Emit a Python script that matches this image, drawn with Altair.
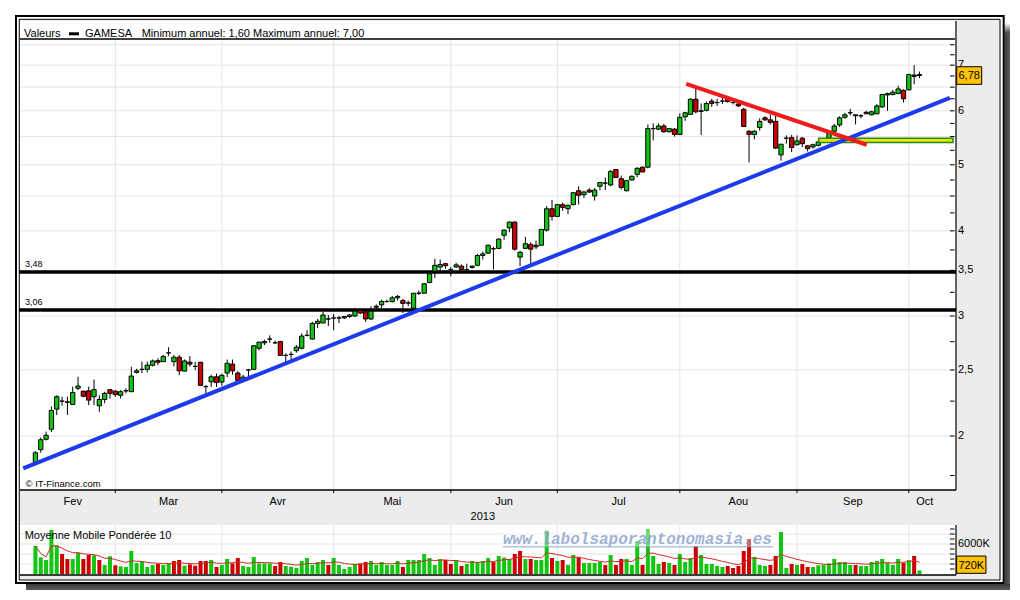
import altair as alt
import numpy as np
import pandas as pd

# ---------------- data (trading-day index, 0 = 1 Mar 2013) ----------------
day_index = list(range(-15, 152))

opens = [
    1.83, 1.91, 1.978, 2.046, 2.19, 2.25, 2.245, 2.225, 2.35, 2.327,
    2.33, 2.284, 2.215, 2.263, 2.339, 2.327, 2.295, 2.33, 2.323, 2.48,
    2.505, 2.505, 2.54, 2.58, 2.571, 2.648, 2.571, 2.61, 2.49, 2.566,
    2.53, 2.566, 2.363, 2.402, 2.443, 2.40, 2.474, 2.55, 2.474, 2.42,
    2.50, 2.505, 2.69, 2.74, 2.775, 2.74, 2.752, 2.626, 2.635, 2.668,
    2.69, 2.81, 2.775, 2.926, 2.93, 2.97, 2.98, 2.98, 2.98, 2.995,
    3.00, 3.06, 3.04, 2.97, 3.09, 3.115, 3.15, 3.15, 3.19, 3.16,
    3.135, 3.08, 3.24, 3.24, 3.36, 3.49, 3.54, 3.58, 3.51, 3.54,
    3.55, 3.51, 3.535, 3.56, 3.68, 3.71, 3.765, 3.77, 3.94, 4.04,
    4.12, 3.66, 3.77, 3.82, 3.79, 3.81, 4.01, 4.31, 4.20, 4.37,
    4.31, 4.37, 4.58, 4.52, 4.59, 4.50, 4.65, 4.70, 4.67, 4.92,
    4.77, 4.58, 4.75, 4.84, 4.96, 4.96, 5.65, 5.64, 5.70, 5.59,
    5.64, 5.54, 5.88, 5.93, 6.24, 5.99, 6.01, 6.20, 6.17, 6.20,
    6.26, 6.17, 6.14, 6.03, 5.60, 5.54, 5.67, 5.86, 5.82, 5.79,
    5.17, 5.47, 5.48, 5.35, 5.47, 5.33, 5.31, 5.34, 5.42, 5.47,
    5.60, 5.72, 5.87, 5.96, 5.92, 5.90, 5.97, 5.92, 5.94, 6.08,
    6.33, 6.34, 6.36, 6.43, 6.44, 6.77, 6.76]

highs = [
    1.90, 1.99, 2.03, 2.21, 2.295, 2.284, 2.284, 2.363, 2.443, 2.33,
    2.363, 2.42, 2.295, 2.323, 2.339, 2.335, 2.335, 2.35, 2.527, 2.51,
    2.571, 2.571, 2.59, 2.60, 2.63, 2.70, 2.63, 2.63, 2.59, 2.62,
    2.57, 2.566, 2.376, 2.46, 2.47, 2.47, 2.59, 2.59, 2.49, 2.46,
    2.51, 2.72, 2.75, 2.77, 2.81, 2.76, 2.76, 2.645, 2.66, 2.72,
    2.83, 2.86, 2.94, 2.97, 3.04, 3.01, 3.02, 3.00, 3.00, 3.02,
    3.08, 3.07, 3.07, 3.10, 3.12, 3.17, 3.17, 3.21, 3.22, 3.18,
    3.16, 3.24, 3.27, 3.35, 3.47, 3.64, 3.63, 3.59, 3.54, 3.59,
    3.57, 3.58, 3.56, 3.70, 3.73, 3.82, 3.79, 3.90, 4.02, 4.13,
    4.13, 3.74, 3.92, 3.85, 3.87, 4.02, 4.35, 4.44, 4.38, 4.40,
    4.37, 4.56, 4.65, 4.58, 4.62, 4.62, 4.71, 4.79, 4.91, 4.93,
    4.82, 4.75, 4.82, 4.96, 4.97, 5.73, 5.75, 5.75, 5.74, 5.66,
    5.66, 5.95, 5.98, 6.26, 6.47, 6.15, 6.19, 6.25, 6.25, 6.27,
    6.28, 6.22, 6.16, 6.06, 5.62, 5.62, 5.85, 5.89, 5.92, 5.90,
    5.36, 5.52, 5.53, 5.52, 5.49, 5.34, 5.37, 5.43, 5.47, 5.59,
    5.74, 5.89, 5.96, 6.04, 5.92, 5.93, 6.00, 6.00, 6.14, 6.35,
    6.38, 6.44, 6.53, 6.45, 6.80, 7.00, 6.85]

lows = [
    1.82, 1.89, 1.97, 2.027, 2.147, 2.215, 2.147, 2.225, 2.335, 2.28,
    2.22, 2.22, 2.17, 2.233, 2.27, 2.284, 2.27, 2.31, 2.32, 2.47,
    2.474, 2.48, 2.53, 2.54, 2.57, 2.62, 2.53, 2.457, 2.49, 2.527,
    2.50, 2.37, 2.31, 2.36, 2.36, 2.37, 2.44, 2.46, 2.41, 2.40,
    2.42, 2.50, 2.67, 2.72, 2.74, 2.73, 2.62, 2.566, 2.58, 2.65,
    2.68, 2.80, 2.77, 2.88, 2.93, 2.90, 2.86, 2.93, 2.97, 2.98,
    2.99, 3.02, 2.94, 2.96, 3.06, 3.08, 3.14, 3.14, 3.16, 3.03,
    3.10, 3.06, 3.22, 3.24, 3.35, 3.41, 3.50, 3.52, 3.43, 3.53,
    3.49, 3.49, 3.52, 3.55, 3.63, 3.70, 3.51, 3.76, 3.88, 3.98,
    3.74, 3.55, 3.76, 3.58, 3.76, 3.81, 3.99, 4.14, 4.19, 4.28,
    4.23, 4.36, 4.37, 4.47, 4.55, 4.43, 4.59, 4.59, 4.65, 4.78,
    4.60, 4.57, 4.74, 4.79, 4.88, 4.94, 5.43, 5.62, 5.57, 5.58,
    5.50, 5.53, 5.80, 5.92, 5.95, 5.53, 5.99, 6.08, 6.10, 6.14,
    6.17, 6.13, 6.08, 5.69, 5.04, 5.45, 5.61, 5.80, 5.73, 5.27,
    5.07, 5.37, 5.22, 5.34, 5.31, 5.23, 5.28, 5.32, 5.38, 5.46,
    5.58, 5.68, 5.84, 5.91, 5.73, 5.85, 5.94, 5.91, 5.93, 6.06,
    6.00, 6.32, 6.35, 6.17, 6.43, 6.56, 6.70]

closes = [
    1.89, 1.975, 2.005, 2.18, 2.284, 2.25, 2.241, 2.317, 2.368, 2.287,
    2.258, 2.339, 2.263, 2.31, 2.31, 2.30, 2.323, 2.33, 2.449, 2.493,
    2.505, 2.541, 2.577, 2.566, 2.617, 2.648, 2.61, 2.493, 2.577, 2.55,
    2.53, 2.373, 2.363, 2.443, 2.396, 2.455, 2.557, 2.493, 2.413, 2.44,
    2.50, 2.713, 2.746, 2.752, 2.775, 2.74, 2.626, 2.626, 2.635, 2.70,
    2.803, 2.81, 2.926, 2.947, 3.01, 2.97, 2.98, 2.98, 2.995, 3.01,
    3.05, 3.03, 2.97, 3.05, 3.10, 3.15, 3.15, 3.19, 3.205, 3.13,
    3.135, 3.24, 3.24, 3.345, 3.46, 3.56, 3.57, 3.555, 3.51, 3.565,
    3.51, 3.51, 3.55, 3.68, 3.70, 3.81, 3.765, 3.89, 4.01, 4.12,
    3.76, 3.72, 3.83, 3.76, 3.81, 4.02, 4.31, 4.20, 4.37, 4.33,
    4.36, 4.55, 4.51, 4.56, 4.56, 4.59, 4.71, 4.70, 4.89, 4.79,
    4.63, 4.74, 4.81, 4.94, 4.88, 5.65, 5.65, 5.70, 5.59, 5.65,
    5.54, 5.87, 5.96, 6.24, 5.98, 6.00, 6.15, 6.15, 6.17, 6.20,
    6.19, 6.17, 6.10, 5.69, 5.54, 5.60, 5.79, 5.82, 5.77, 5.29,
    5.36, 5.47, 5.30, 5.42, 5.37, 5.28, 5.35, 5.40, 5.44, 5.56,
    5.70, 5.86, 5.92, 5.96, 5.90, 5.90, 5.94, 5.98, 6.10, 6.34,
    6.36, 6.39, 6.46, 6.25, 6.78, 6.74, 6.78]

volumes_k = [
    5600, 3333, 2800, 8800, 5733, 4000, 3000, 3000, 4267, 3000,
    3800, 3733, 2800, 1800, 3533, 1733, 1533, 1400, 4600, 2200,
    2533, 1400, 1800, 2000, 1800, 2133, 2600, 2800, 1667, 1933,
    1667, 2600, 2600, 2800, 1400, 1800, 3000, 2133, 3200, 1600,
    1400, 3400, 2133, 2133, 2133, 1600, 2400, 1600, 1467, 1200,
    2600, 3200, 1800, 2400, 2800, 1800, 3200, 1800, 1000, 1400,
    2000, 2133, 2400, 2600, 1800, 2400, 1800, 1800, 2600, 1400,
    2800, 2800, 2800, 4000, 3200, 1800, 3000, 2800, 2000, 2800,
    1600, 2000, 2600, 2400, 2600, 3200, 2400, 3600, 3300, 3000,
    4000, 4600, 3000, 3000, 2800, 2800, 8667, 3200, 2600, 2800,
    1800, 3800, 3333, 2200, 2200, 2200, 2400, 1800, 3800, 1800,
    3000, 3000, 1800, 6600, 1800, 8933, 3600, 2000, 2400, 2200,
    1800, 4000, 2400, 3200, 5600, 3800, 2000, 2000, 1600, 1400,
    1600, 1200, 1600, 4600, 7000, 3400, 1800, 1600, 1800, 3600,
    8400, 1200, 2000, 1800, 2000, 1400, 1400, 1750, 1800, 2133,
    3000, 2400, 2400, 1800, 1800, 1600, 1600, 2400, 2600, 3000,
    2200, 1800, 3000, 2200, 2800, 3600, 720]

month_starts = [0, 20, 41, 63, 83, 106, 128, 149]
month_names = ["Fev", "Mar", "Avr", "Mai", "Jun", "Jul", "Aou", "Sep", "Oct"]
month_label_pos = [-8, 10, 30.5, 52, 73, 94.5, 117, 138.5, 152]
year_text = ["2013"]
year_pos = [69]

price_grid = [2.0, 2.5, 3.0, 3.5, 4.0, 4.5, 5.0, 5.5, 6.0, 6.5, 7.0, 7.5]
price_ticks = [1.75, 2.0, 2.25, 2.5, 2.75, 3.0, 3.25, 3.5, 3.75, 4.0, 4.25, 4.5,
               4.75, 5.0, 5.25, 5.5, 5.75, 6.0, 6.25, 6.5, 6.75, 7.0, 7.25, 7.5]
price_labels = [2, 2.5, 3, 3.5, 4, 5, 6, 7]

support_levels = [3.48, 3.06]
blue_x = [-17.3, 156.7]
blue_y = [1.793, 6.27]
red_x = [107.2, 141.1]
red_y = [6.57, 5.35]
band_x = [132.1, 157.3]
band_y = [5.39, 5.47]

vol_grid = [2000, 4000, 6000, 8000]
vol_ticks = [1000, 2000, 3000, 4000, 5000, 6000, 7000, 8000, 9000]
vol_labels = [6000]

# ---------------- styling ----------------
FONT = "Liberation Sans"
GREEN = "#11c511"
RED = "#cc0000"
BLUE = "#1c3aee"
LINE_RED = "#f01c1c"
GRID = "#e4e4e4"
PANEL = "#ececec"
BOX = "#ffc300"

W, H = 936, 469
VH = 50
xs = alt.Scale(domain=[-16.96, 156.92], nice=False, zero=False)
ys = alt.Scale(type="log", domain=[1.6665, 8.127], nice=False)
vs = alt.Scale(domain=[-200, 9800], nice=False, zero=False)

df = pd.DataFrame({"i": day_index, "o": opens, "h": highs, "l": lows,
                   "c": closes, "v": volumes_k})
prev_close = df["c"].shift(1).fillna(df["o"])
df["vup"] = (df["c"] >= prev_close).astype(int)
vol = np.array(volumes_k, dtype=float)
wma = []
for k in range(len(vol)):
    seg = vol[max(0, k - 9):k + 1]
    wts = np.arange(1, len(seg) + 1)
    wma.append(float((seg * wts).sum() / wts.sum()))
df["wma"] = wma

last = df.tail(1).copy()
last["plab"] = last["c"].map(lambda v: f"{v:.2f}".replace(".", ","))
last["vlab"] = last["v"].map(lambda v: f"{int(v)}K")

fr = alt.Chart(pd.DataFrame({"k": [0]}))
X = lambda f: alt.X(f, scale=xs, axis=None)
Y = lambda f: alt.Y(f, scale=ys, axis=None)
V = lambda f: alt.Y(f, scale=vs, axis=None)

grad_h = alt.Gradient(gradient="linear", x1=0, x2=1, y1=0, y2=0,
                      stops=[alt.GradientStop(offset=0, color="#3a3a3a"),
                             alt.GradientStop(offset=1, color="#5e5e5e")])
grad_v = alt.Gradient(gradient="linear", x1=0, x2=0, y1=0, y2=1,
                      stops=[alt.GradientStop(offset=0, color="#3a3a3a"),
                             alt.GradientStop(offset=1, color="#5a5a5a")])
grad_top = alt.Gradient(gradient="linear", x1=0, x2=0, y1=0, y2=1,
                        stops=[alt.GradientStop(offset=0, color="#ffffff"),
                               alt.GradientStop(offset=1, color="#4a4a4a")])

layers = [
    fr.mark_rect(color="white").encode(x=alt.value(-12), x2=alt.value(-11), y=alt.value(-13), y2=alt.value(-12)),
    fr.mark_rect(fill=grad_top).encode(x=alt.value(984.5), x2=alt.value(990), y=alt.value(2), y2=alt.value(12)),
    fr.mark_rect(fill=grad_h).encode(x=alt.value(984.5), x2=alt.value(990), y=alt.value(12), y2=alt.value(569)),
    fr.mark_rect(fill=grad_v).encode(x=alt.value(6), x2=alt.value(990), y=alt.value(563), y2=alt.value(569)),
    fr.mark_rect(fillOpacity=0, stroke="black", strokeWidth=2).encode(
        x=alt.value(-4), x2=alt.value(983.7), y=alt.value(-5.1), y2=alt.value(561.9)),
    fr.mark_rect(fill=PANEL, stroke="black", strokeWidth=1).encode(
        x=alt.value(-0.75), x2=alt.value(980), y=alt.value(-1.7), y2=alt.value(559)),
    fr.mark_rect(fill="white").encode(x=alt.value(0), x2=alt.value(W), y=alt.value(0), y2=alt.value(H)),
    alt.Chart(pd.DataFrame({"g": price_grid})).mark_rule(color=GRID, strokeWidth=1).encode(
        y=Y("g:Q"), x=alt.value(0), x2=alt.value(W)),
    alt.Chart(pd.DataFrame({"m": month_starts})).mark_rule(color=GRID, strokeWidth=1).encode(
        x=X("m:Q"), y=alt.value(18), y2=alt.value(H)),
    fr.mark_rule(color="black", strokeWidth=1.3).encode(x=alt.value(0), x2=alt.value(935), y=alt.value(18)),
    fr.mark_text(text="Valeurs", align="left", baseline="alphabetic", fontSize=11, font=FONT).encode(
        x=alt.value(4), y=alt.value(15.5)),
    fr.mark_rect(color="black").encode(x=alt.value(49), x2=alt.value(59), y=alt.value(11.3), y2=alt.value(14.3)),
    fr.mark_text(text="GAMESA", align="left", baseline="alphabetic", fontSize=11, font=FONT).encode(
        x=alt.value(65), y=alt.value(15.5)),
    fr.mark_text(text="Minimum annuel: 1,60 Maximum annuel: 7,00", align="left", baseline="alphabetic",
                 fontSize=11, font=FONT).encode(x=alt.value(121.7), y=alt.value(15.5)),
]

sup_df = pd.DataFrame({"s": support_levels,
                       "lab": [f"{s:.2f}".replace(".", ",") for s in support_levels]})
layers += [
    alt.Chart(sup_df).mark_rule(color="black", strokeWidth=3.5).encode(
        y=Y("s:Q"), x=alt.value(-1), x2=alt.value(W)),
    alt.Chart(sup_df).mark_text(align="left", baseline="alphabetic", dy=-5, fontSize=9, font=FONT).encode(
        y=Y("s:Q"), x=alt.value(5), text="lab:N"),
]

base = alt.Chart(df)
layers += [
    base.mark_rule(color="black", strokeWidth=1).encode(x=X("i:Q"), y=Y("l:Q"), y2="h:Q"),
    base.mark_bar(size=4.3, stroke="black", strokeWidth=1, orient="vertical").encode(
        x=X("i:Q"), y=Y("o:Q"), y2="c:Q",
        color=alt.condition("datum.c >= datum.o", alt.value(GREEN), alt.value(RED))),
    alt.Chart(pd.DataFrame({"x1": [band_x[0]], "x2": [band_x[1]], "y1": [band_y[0]], "y2": [band_y[1]]}))
    .mark_rect(fill="#f2e200", stroke="#1f8a1f", strokeWidth=1.5).encode(
        x=X("x1:Q"), x2="x2:Q", y=Y("y1:Q"), y2="y2:Q"),
    alt.Chart(pd.DataFrame({"x": blue_x, "y": blue_y})).mark_line(color=BLUE, strokeWidth=4).encode(
        x=X("x:Q"), y=Y("y:Q")),
    alt.Chart(pd.DataFrame({"x": red_x, "y": red_y})).mark_line(color=LINE_RED, strokeWidth=4).encode(
        x=X("x:Q"), y=Y("y:Q")),
]

plab_df = pd.DataFrame({"v": price_labels, "lab": [f"{v:g}".replace(".", ",") for v in price_labels]})
layers += [
    fr.mark_rule(color="black", strokeWidth=1.2).encode(x=alt.value(W), y=alt.value(0), y2=alt.value(H)),
    alt.Chart(pd.DataFrame({"t": price_ticks})).mark_rule(color="black", strokeWidth=1).encode(
        y=Y("t:Q"), x=alt.value(930), x2=alt.value(934.5)),
    alt.Chart(plab_df).mark_text(align="left", baseline="middle", fontSize=11, font=FONT).encode(
        y=Y("v:Q"), x=alt.value(938), text="lab:N"),
    alt.Chart(last).mark_point(shape="M-1,-0.704L1,-0.704L1,0.704L-1,0.704Z", size=625, filled=True,
                               fill=BOX, stroke="black", strokeWidth=1, opacity=1, yOffset=0.9).encode(
        x=alt.value(949.2), y=Y("c:Q")),
    alt.Chart(last).mark_text(align="center", baseline="middle", fontSize=11, font=FONT, dy=1.5).encode(
        x=alt.value(949.2), y=Y("c:Q"), text="plab:N"),
    fr.mark_rule(color="black", strokeWidth=1.3).encode(x=alt.value(0), x2=alt.value(W), y=alt.value(H)),
    alt.Chart(pd.DataFrame({"m": month_starts})).mark_rule(color="black", strokeWidth=1).encode(
        x=X("m:Q"), y=alt.value(H), y2=alt.value(H + 3)),
    alt.Chart(pd.DataFrame({"p": month_label_pos, "n": month_names})).mark_text(
        align="center", baseline="alphabetic", fontSize=11, font=FONT).encode(
        x=X("p:Q"), y=alt.value(484), text="n:N"),
    alt.Chart(pd.DataFrame({"p": year_pos, "n": year_text})).mark_text(
        align="center", baseline="alphabetic", fontSize=11, font=FONT).encode(
        x=X("p:Q"), y=alt.value(499), text="n:N"),
    fr.mark_text(text="\u00a9 IT-Finance.com", align="left", baseline="alphabetic", fontSize=9.5,
                 font=FONT).encode(x=alt.value(5.5), y=alt.value(465.7)),
]

price = alt.layer(*layers).properties(width=W, height=H)

vbase = alt.Chart(df)
vlayers = [
    alt.Chart(pd.DataFrame({"g": vol_grid})).mark_rule(color=GRID, strokeWidth=1).encode(
        y=V("g:Q"), x=alt.value(0), x2=alt.value(W)),
    alt.Chart(pd.DataFrame({"m": month_starts})).mark_rule(color=GRID, strokeWidth=1).encode(
        x=X("m:Q"), y=alt.value(0), y2=alt.value(VH)),
    vbase.mark_bar(size=4).encode(
        x=X("i:Q"), y=V("v:Q"), y2=alt.datum(0),
        color=alt.condition("datum.vup == 1", alt.value(GREEN), alt.value(RED))),
    vbase.mark_line(color="#d42a2a", strokeWidth=1).encode(x=X("i:Q"), y=V("wma:Q")),
    fr.mark_rect(fill="white", opacity=0.4).encode(x=alt.value(480), x2=alt.value(756), y=alt.value(5), y2=alt.value(22)),
    fr.mark_text(text="www.labolsaporantonomasia.es", align="left", baseline="alphabetic",
                 font="Liberation Mono", fontStyle="italic", fontWeight="bold", fontSize=16,
                 color="#7f9bc6", opacity=0.75).encode(x=alt.value(483), y=alt.value(19)),
    fr.mark_rule(color="#7f9bc6", opacity=0.6, strokeWidth=1.5).encode(
        x=alt.value(483), x2=alt.value(753), y=alt.value(21.7)),
    fr.mark_text(text="Moyenne Mobile Pond\u00e9r\u00e9e 10", align="left", baseline="alphabetic",
                 fontSize=11, font=FONT).encode(x=alt.value(4.7), y=alt.value(14)),
    fr.mark_rule(color="black", strokeWidth=1.2).encode(x=alt.value(W), y=alt.value(0), y2=alt.value(VH)),
    fr.mark_rule(color="black", strokeWidth=1.3).encode(x=alt.value(0), x2=alt.value(W), y=alt.value(VH)),
    alt.Chart(pd.DataFrame({"t": vol_ticks})).mark_rule(color="black", strokeWidth=1).encode(
        y=V("t:Q"), x=alt.value(930), x2=alt.value(934.5)),
    alt.Chart(pd.DataFrame({"t": vol_labels, "lab": [f"{t}K" for t in vol_labels]})).mark_text(
        align="left", baseline="middle", fontSize=11, font=FONT).encode(
        y=V("t:Q"), x=alt.value(938), text="lab:N"),
    alt.Chart(last).mark_point(shape="M-1,-0.59L1,-0.59L1,0.59L-1,0.59Z", size=858, filled=True,
                               fill=BOX, stroke="black", strokeWidth=1, opacity=1, yOffset=-5.7).encode(
        x=alt.value(951.3), y=V("v:Q")),
    alt.Chart(last).mark_text(align="center", baseline="middle", fontSize=11, font=FONT, dy=-4.7).encode(
        x=alt.value(951.3), y=V("v:Q"), text="vlab:N"),
]
volume = alt.layer(*vlayers).properties(width=W, height=VH)

chart = alt.vconcat(price, volume, spacing=35, bounds="flush").properties(
    padding=0, background="white"
).configure_view(fill="white", strokeWidth=0).configure_text(font=FONT)

chart.save("out.html", embed_options={"renderer": "svg", "actions": False})
